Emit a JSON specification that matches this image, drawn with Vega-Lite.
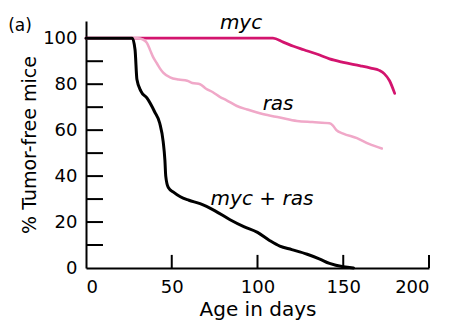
{
  "$schema": "https://vega.github.io/schema/vega-lite/v6.json",
  "width": 343,
  "height": 247,
  "autosize": "none",
  "padding": {"left": 86, "top": 21, "right": 32, "bottom": 58},
  "background": "white",
  "config": {
    "view": {"stroke": null},
    "font": "DejaVu Sans",
    "axis": {
      "grid": false,
      "ticks": false,
      "tickSize": 0,
      "domainColor": "black",
      "domainWidth": 2,
      "labelColor": "black",
      "titleColor": "black",
      "labelFont": "DejaVu Sans",
      "titleFont": "DejaVu Sans",
      "labelFontSize": 18,
      "titleFontWeight": "normal"
    }
  },
  "datasets": {
    "curves": [
      {"series": "myc", "day": 0, "pct": 100},
      {"series": "myc", "day": 109, "pct": 100},
      {"series": "myc", "day": 115, "pct": 98.3},
      {"series": "myc", "day": 121, "pct": 96.5},
      {"series": "myc", "day": 127, "pct": 95},
      {"series": "myc", "day": 135, "pct": 93},
      {"series": "myc", "day": 142, "pct": 91},
      {"series": "myc", "day": 150, "pct": 89.5},
      {"series": "myc", "day": 160, "pct": 88},
      {"series": "myc", "day": 166, "pct": 87},
      {"series": "myc", "day": 171, "pct": 86},
      {"series": "myc", "day": 174, "pct": 84.5},
      {"series": "myc", "day": 177, "pct": 81.5},
      {"series": "myc", "day": 180, "pct": 76},
      {"series": "ras", "day": 0, "pct": 100},
      {"series": "ras", "day": 30, "pct": 100},
      {"series": "ras", "day": 33, "pct": 99.5},
      {"series": "ras", "day": 35.5, "pct": 98},
      {"series": "ras", "day": 37.3, "pct": 95},
      {"series": "ras", "day": 39, "pct": 92},
      {"series": "ras", "day": 41.4, "pct": 89},
      {"series": "ras", "day": 43, "pct": 87},
      {"series": "ras", "day": 45, "pct": 85},
      {"series": "ras", "day": 49, "pct": 83},
      {"series": "ras", "day": 54, "pct": 82},
      {"series": "ras", "day": 59, "pct": 81.5},
      {"series": "ras", "day": 62, "pct": 80.5},
      {"series": "ras", "day": 66.5, "pct": 80},
      {"series": "ras", "day": 70, "pct": 78},
      {"series": "ras", "day": 74, "pct": 76.5},
      {"series": "ras", "day": 78, "pct": 74.5},
      {"series": "ras", "day": 82, "pct": 73},
      {"series": "ras", "day": 88, "pct": 70.5},
      {"series": "ras", "day": 94, "pct": 69},
      {"series": "ras", "day": 103, "pct": 67},
      {"series": "ras", "day": 113, "pct": 65.5},
      {"series": "ras", "day": 123, "pct": 64},
      {"series": "ras", "day": 132, "pct": 63.5},
      {"series": "ras", "day": 142, "pct": 63},
      {"series": "ras", "day": 144, "pct": 62},
      {"series": "ras", "day": 146, "pct": 60},
      {"series": "ras", "day": 150, "pct": 58.5},
      {"series": "ras", "day": 158, "pct": 56.5},
      {"series": "ras", "day": 165, "pct": 54},
      {"series": "ras", "day": 172.5, "pct": 52},
      {"series": "myc + ras", "day": 0, "pct": 100},
      {"series": "myc + ras", "day": 27, "pct": 100},
      {"series": "myc + ras", "day": 28.6, "pct": 95},
      {"series": "myc + ras", "day": 29.7, "pct": 82},
      {"series": "myc + ras", "day": 32, "pct": 77},
      {"series": "myc + ras", "day": 35.5, "pct": 74},
      {"series": "myc + ras", "day": 40, "pct": 68},
      {"series": "myc + ras", "day": 43, "pct": 63},
      {"series": "myc + ras", "day": 45, "pct": 55},
      {"series": "myc + ras", "day": 46, "pct": 47},
      {"series": "myc + ras", "day": 46.5, "pct": 40},
      {"series": "myc + ras", "day": 48, "pct": 35},
      {"series": "myc + ras", "day": 51, "pct": 33},
      {"series": "myc + ras", "day": 55, "pct": 31},
      {"series": "myc + ras", "day": 60, "pct": 29.5},
      {"series": "myc + ras", "day": 66.5, "pct": 28},
      {"series": "myc + ras", "day": 75, "pct": 25},
      {"series": "myc + ras", "day": 84, "pct": 21},
      {"series": "myc + ras", "day": 92, "pct": 18},
      {"series": "myc + ras", "day": 100, "pct": 15.5},
      {"series": "myc + ras", "day": 107, "pct": 12},
      {"series": "myc + ras", "day": 113, "pct": 9.5},
      {"series": "myc + ras", "day": 120, "pct": 8},
      {"series": "myc + ras", "day": 129, "pct": 6},
      {"series": "myc + ras", "day": 136, "pct": 4},
      {"series": "myc + ras", "day": 142, "pct": 2},
      {"series": "myc + ras", "day": 150, "pct": 0.5},
      {"series": "myc + ras", "day": 156, "pct": 0}
    ],
    "yticks": [
      {"pct": 10, "d0": 0, "d1": 9.9},
      {"pct": 20, "d0": 0, "d1": 9.9},
      {"pct": 30, "d0": 0, "d1": 9.9},
      {"pct": 40, "d0": 0, "d1": 9.9},
      {"pct": 50, "d0": 0, "d1": 9.9},
      {"pct": 60, "d0": 0, "d1": 9.9},
      {"pct": 70, "d0": 0, "d1": 9.9},
      {"pct": 80, "d0": 0, "d1": 9.9},
      {"pct": 90, "d0": 0, "d1": 9.9}
    ],
    "xticks": [
      {"day": 50, "p0": 0, "p1": 5.7},
      {"day": 100, "p0": 0, "p1": 5.7},
      {"day": 150, "p0": 0, "p1": 5.7},
      {"day": 200, "p0": 0, "p1": 5.7}
    ],
    "labels": [
      {"text": "myc", "day": 90.4, "pct": 106.5},
      {"text": "ras", "day": 112, "pct": 71.3},
      {"text": "myc + ras", "day": 102.6, "pct": 30}
    ],
    "panel": [
      {"text": "(a)", "day": -38.5, "pct": 105.5}
    ]
  },
  "layer": [
    {
      "data": {"name": "yticks"},
      "mark": {"type": "rule", "color": "black", "strokeWidth": 2},
      "encoding": {
        "y": {"field": "pct", "type": "quantitative"},
        "x": {"field": "d0", "type": "quantitative"},
        "x2": {"field": "d1"}
      }
    },
    {
      "data": {"name": "xticks"},
      "mark": {"type": "rule", "color": "black", "strokeWidth": 2},
      "encoding": {
        "x": {"field": "day", "type": "quantitative"},
        "y": {"field": "p0", "type": "quantitative"},
        "y2": {"field": "p1"}
      }
    },
    {
      "data": {"name": "curves"},
      "mark": {"type": "line", "strokeCap": "round", "strokeJoin": "round", "interpolate": "monotone"},
      "encoding": {
        "x": {
          "field": "day", "type": "quantitative",
          "scale": {"domain": [0, 200], "nice": false, "zero": false},
          "axis": {
            "values": [0, 50, 100, 150, 200],
            "labelPadding": 10,
            "title": "Age in days",
            "titleFontSize": 20,
            "titlePadding": 3
          }
        },
        "y": {
          "field": "pct", "type": "quantitative",
          "scale": {"domain": [0, 107.5], "nice": false},
          "axis": {
            "values": [0, 20, 40, 60, 80, 100],
            "labelPadding": 9,
            "title": "% Tumor-free mice",
            "titleFontSize": 19,
            "titlePadding": 3
          }
        },
        "color": {
          "field": "series", "type": "nominal", "legend": null,
          "scale": {"domain": ["ras", "myc", "myc + ras"], "range": ["#f0a8c8", "#d3146e", "#000000"]}
        },
        "strokeWidth": {
          "field": "series", "type": "nominal", "legend": null,
          "scale": {"domain": ["ras", "myc", "myc + ras"], "range": [2.5, 3, 4]}
        },
        "order": {"field": "day", "type": "quantitative"}
      }
    },
    {
      "data": {"name": "labels"},
      "mark": {"type": "text", "fontSize": 20, "fontStyle": "italic", "font": "DejaVu Sans", "color": "black", "align": "center", "baseline": "middle"},
      "encoding": {
        "x": {"field": "day", "type": "quantitative"},
        "y": {"field": "pct", "type": "quantitative"},
        "text": {"field": "text"}
      }
    },
    {
      "data": {"name": "panel"},
      "mark": {"type": "text", "fontSize": 17, "font": "DejaVu Sans", "color": "black", "align": "center", "baseline": "middle"},
      "encoding": {
        "x": {"field": "day", "type": "quantitative"},
        "y": {"field": "pct", "type": "quantitative"},
        "text": {"field": "text"}
      }
    }
  ]
}
